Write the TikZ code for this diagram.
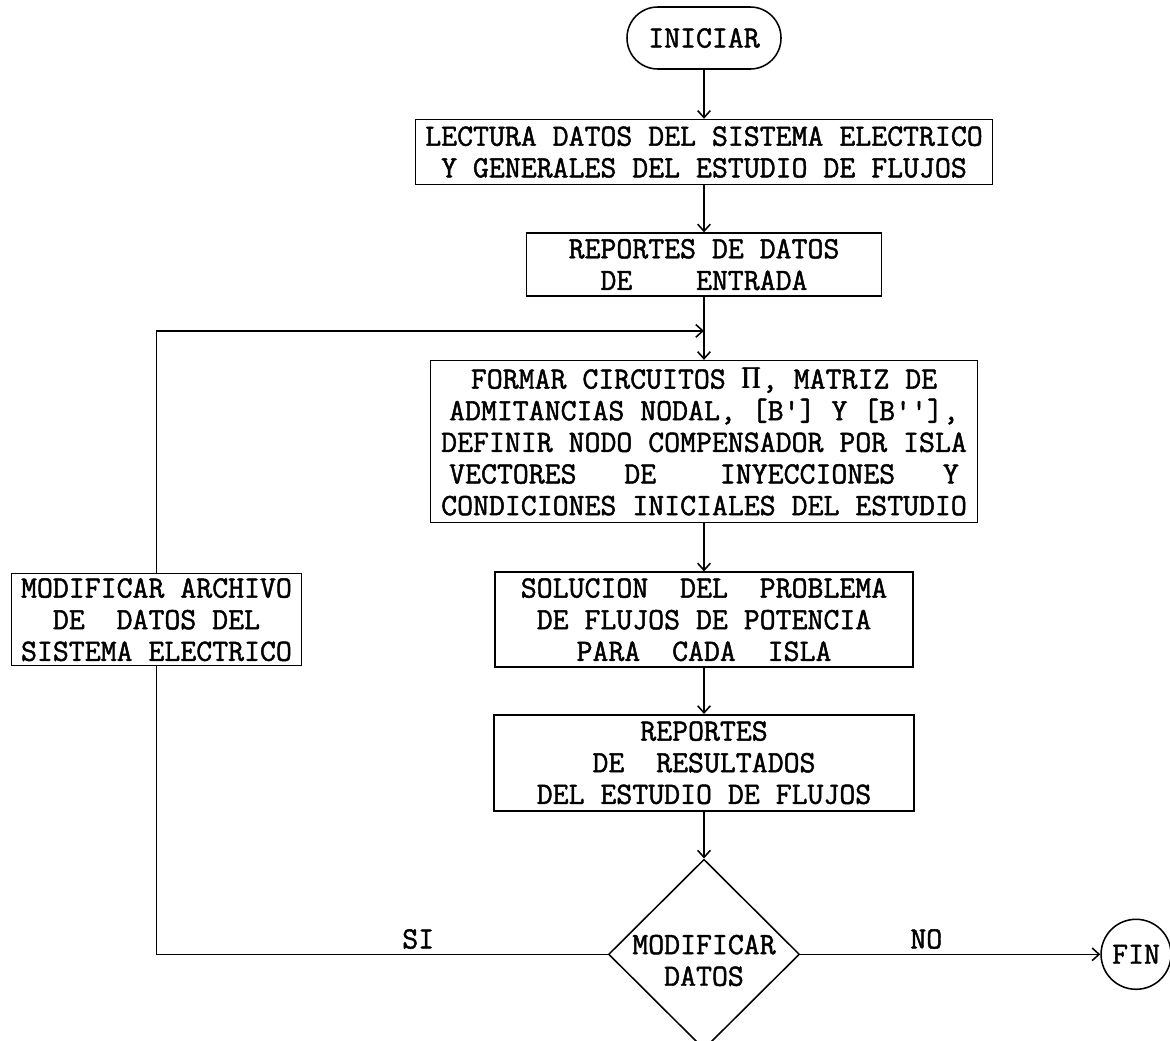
\documentclass[tikz,border=0pt]{standalone}
\usepackage{fontspec}
\usepackage{amsmath}
\setmonofont{Latin Modern Mono}[FakeBold=1.5]
\usetikzlibrary{arrows,arrows.meta,positioning,shapes.geometric}

\begin{document}
\begin{tikzpicture}[>={Straight Barb[length=5pt,width=9pt]},line width=1.1pt,node distance=1.2cm,
  font=\ttfamily\fontsize{22}{22.5}\selectfont,
  box node/.style={rectangle,draw,align=center,inner xsep=2pt,inner ysep=1pt},
  end node/.style={rectangle,rounded corners=0.77cm,draw,minimum width=3.85cm,minimum height=1.55cm},
  dec node/.style={diamond,draw,align=center,inner sep=-9pt,minimum width=4.775cm,minimum height=4.75cm},
  fin node/.style={circle,draw,inner sep=1pt,minimum size=1.75cm}]
  \useasboundingbox (0,0) rectangle (29.25,-26);

  \node[end node] (ini) at (17.6,-0.95) {INICIAR};
  \node[box node,minimum width=14.425cm,minimum height=1.625cm] (lec) [below=1.225cm of ini]
    {LECTURA DATOS DEL SISTEMA ELECTRICO\\Y GENERALES DEL ESTUDIO DE FLUJOS};
  \node[box node,minimum width=8.875cm,minimum height=1.575cm] (rep) [below=1.175cm of lec]
    {REPORTES DE DATOS\\DE~~~~ENTRADA};
  \node[box node,minimum width=13.675cm,minimum height=4.05cm] (form) [below=1.575cm of rep]
    {FORMAR CIRCUITOS $\pmb{\Pi}$, MATRIZ DE\\ADMITANCIAS NODAL, [B'] Y [B''],\\
     DEFINIR NODO COMPENSADOR POR ISLA\\VECTORES~~~DE~~~~INYECCIONES~~~Y\\
     CONDICIONES INICIALES DEL ESTUDIO};
  \node[box node,minimum width=10.45cm,minimum height=2.375cm] (sol) [below=1.2cm of form]
    {SOLUCION~~DEL~~PROBLEMA\\DE FLUJOS DE POTENCIA\\PARA~~CADA~~ISLA};
  \node[box node,minimum width=10.5cm,minimum height=2.4cm] (res) [below=1.15cm of sol]
    {REPORTES\\DE~~RESULTADOS\\DEL ESTUDIO DE FLUJOS};
  \node[dec node] (dec) [below=1.175cm of res] {~\\MODIFICAR\\DATOS};
  \node[fin node] (fin) [right=7.5cm of dec] {FIN};
  \node[box node,minimum width=7.25cm,minimum height=2.3cm] (mod) [left=4.8cm of sol]
    {MODIFICAR ARCHIVO\\DE~~DATOS DEL\\SISTEMA ELECTRICO};

  \draw[->] (ini) -- (lec);
  \draw[->] (lec) -- (rep);
  \draw[->] (rep) -- (form);
  \draw[->] (form) -- (sol);
  \draw[->] (sol) -- (res);
  \draw[->] (res) -- (dec);
  \draw[->] (dec) -- node[above,pos=0.42] {NO} (fin);
  % vuelta hacia la formacion de la red
  \draw (dec.west) -- node[above,pos=0.42] {SI} (dec.west -| mod.south) -- (mod.south);
  \path (rep.south) -- coordinate[pos=0.54] (join) (form.north);
  \draw[->] (mod.north) |- (join);
\end{tikzpicture}
\end{document}
